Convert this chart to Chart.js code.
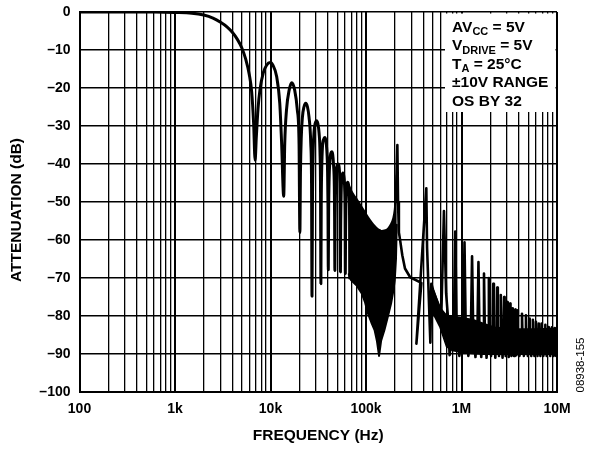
<!DOCTYPE html>
<html>
<head>
<meta charset="utf-8">
<script src="https://cdn.jsdelivr.net/npm/chart.js@4.4.1/dist/chart.umd.min.js"></script>
<style>
html,body{margin:0;padding:0;background:#fff;}
canvas{display:block;}
</style>
</head>
<body>
<canvas id="c" width="590" height="451"></canvas>
<script>
// ---------- DATA ----------
const xTickValues = [100, 1000, 10000, 100000, 1000000, 10000000];
const xTickLabels = ['100', '1k', '10k', '100k', '1M', '10M'];
const yTickValues = [0, -10, -20, -30, -40, -50, -60, -70, -80, -90, -100];
const yTickLabels = ['0', '\u201310', '\u201320', '\u201330', '\u201340', '\u201350', '\u201360', '\u201370', '\u201380', '\u201390', '\u2013100'];

// pass band and roll-off into the first null
const passbandFreq = [100, 300, 600, 1000, 1500, 2000, 2500, 3000, 3500, 4000, 4500, 5000, 5500, 6000, 6350, 6650, 6900];
const passbandDb   = [0, 0, 0, -0.1, -0.3, -0.8, -1.6, -2.7, -3.9, -5.4, -7.2, -9.4, -12.4, -16.5, -21, -29, -39];

// individual side lobes
const sidelobeFreq = [
  7100, 7400, 7750, 8400, 9100, 9900, 10600, 11600, 12500, 13050, 13750,
  14100, 14700, 15700, 16700, 17900, 19100, 19900, 20300,
  20600, 21000, 21600, 22400, 23400, 24400, 25300, 26400, 26900, 27200,
  27500, 27900, 28600, 29400, 30400, 31400, 32300, 33000, 33400, 33700,
  34000, 34400, 35000, 36000, 37000, 38000, 38900, 39600, 39950, 40300,
  40600, 41100, 41900, 42800, 43800, 44800, 45800, 46600, 46900, 47200,
  47500, 48100, 49100, 50200, 51200, 52300, 53200, 53700, 54000,
  54300, 54900, 55900, 57300, 58600, 59800, 60400, 60750,
  61100, 61700, 62800, 64200, 65600, 66800, 67300, 67500
];
const sidelobeDb = [
  -33, -25.5, -20.5, -16, -14, -13.3, -14, -17, -24, -34, -48.5,
  -34.6, -25.8, -20.5, -18.6, -20.5, -25.8, -34.6, -58,
  -42, -33, -27.6, -25, -24, -25, -27.6, -34.6, -45, -74.8,
  -50, -38, -31.5, -29.3, -28.6, -29.5, -32, -37, -46, -71.5,
  -50, -41, -35.5, -33.5, -33, -33.8, -36.5, -42, -50, -67.8,
  -53, -44, -39, -37.2, -36.8, -37.5, -40.5, -46, -54, -68,
  -55, -46, -41.5, -40.2, -40, -40.8, -44, -50, -68.4,
  -57, -48, -43.5, -42.4, -43.2, -46.5, -53, -68.8,
  -58, -50, -46, -44.8, -45.5, -49, -55, -70
];

// densely packed lobes (drawn as a filled band between envelopes)
const denseFreq    = [66000, 70000, 75000, 80000, 90000, 98000, 105000, 115000, 123000, 130000, 137000, 144000, 156000, 170000, 183000, 193000, 200000, 206000, 210000];
const denseUpperDb = [-45.5, -47, -48.3, -49.3, -51.3, -52.8, -54, -55.4, -56.3, -56.9, -57.3, -57.6, -57.5, -57, -55.8, -54.3, -52, -48, -43];
const denseLowerDb = [-69, -70.6, -71.3, -72, -74, -76.5, -79.4, -82, -83.7, -86.5, -90.5, -86.5, -83.7, -80, -76.7, -73.5, -70.6, -65, -56];

// alias spikes above the sampling rate [frequency Hz, dB]
const aliasTrain = [
  [205000,-50],[213000,-35],[216500,-50],[221000,-58],[226000,-59.5],[240000,-64],[256000,-67.5],
  [290000,-69.8],[380000,-71.3],[337000,-87.3],[428000,-46.4],[436000,-62],[472000,-87],
  [483000,-71.5],[502000,-73],[560000,-76.5],[615000,-79.4],[655000,-52.4],[690000,-74],
  [721000,-80.2],[751000,-90.3],[800000,-83],[835000,-80],[860000,-57.8],[885000,-80],
  [950000,-90.5],[1010000,-84],[1045000,-82],[1075000,-60.6],[1105000,-82],[1180000,-90.5],
  [1255000,-83],[1290000,-64.3],[1325000,-83],[1400000,-90.8],
  [1470000,-83],[1505000,-65.8],[1540000,-83],[1610000,-90.8],
  [1685000,-83.5],[1720000,-68.8],[1755000,-83.5],[1830000,-91],
  [1900000,-83.5],[1935000,-70],[1970000,-83.5],[2040000,-90.5],
  [2115000,-84],[2150000,-71.5],[2185000,-84],[2260000,-91],
  [2330000,-84],[2365000,-72.5],[2400000,-84],[2470000,-90.5],
  [2545000,-84],[2580000,-74.5],[2615000,-84],[2690000,-91],
  [2760000,-84],[2795000,-75],[2830000,-84],[2900000,-90.5],
  [2975000,-84],[3010000,-76.3],[3045000,-84],[3120000,-90.8],
  [3190000,-84],[3225000,-76.7],[3260000,-84],[3330000,-90.5],
  [3405000,-84],[3440000,-78],[3475000,-84],[3550000,-90.5],
  [3620000,-84],[3655000,-78.3],[3690000,-84],[3760000,-90.3],
  [3835000,-84],[3870000,-78.5],[3905000,-84],[4050000,-90.5],
  [4260000,-84],[4300000,-79.4],[4340000,-84],[4500000,-90.5],
  [4690000,-84],[4730000,-79.8],[4770000,-84],[4950000,-90.5],
  [5120000,-84],[5160000,-80.7],[5200000,-84],[5380000,-90.5],
  [5550000,-84],[5590000,-81],[5630000,-84],[5800000,-90.5],
  [5980000,-84],[6020000,-81.5],[6060000,-84],[6250000,-90.5],
  [6410000,-84],[6450000,-82],[6490000,-84],[6700000,-90.5],
  [6840000,-84],[6880000,-82],[6920000,-84],[7200000,-90.5],
  [7490000,-84],[7530000,-82.3],[7570000,-84],[7800000,-90.5],
  [8130000,-84],[8170000,-82.9],[8210000,-84],[8500000,-90.5],
  [8780000,-84],[8820000,-83],[8860000,-84],[9200000,-90.5],
  [9420000,-84],[9460000,-83.2],[9500000,-84],[9800000,-90.5],
  [10000000,-86]
];

// high-frequency noise floor band
const floorFreq    = [500000, 600000, 700000, 800000, 1000000, 1300000, 1700000, 2200000, 3000000, 4000000, 6000000, 10000000];
const floorUpperDb = [-73, -78, -80, -80.2, -80.5, -81, -82, -83, -83.3, -83.5, -83.5, -83.3];
const floorLowerDb = [-79, -83, -88, -89, -89.5, -89.8, -90, -90, -90, -90, -90, -90];

// conditions note (text, isSubscript)
const noteLines = [
  [['AV', 0], ['CC', 1], [' = 5V', 0]],
  [['V', 0], ['DRIVE', 1], [' = 5V', 0]],
  [['T', 0], ['A', 1], [' = 25\u00B0C', 0]],
  [['\u00B110V RANGE', 0]],
  [['OS BY 32', 0]]
];
const xTitle = 'FREQUENCY (Hz)';
const yTitle = 'ATTENUATION (dB)';
const figureId = '08938-155';

// ---------- build ----------
const toPts = (fs, ds) => fs.map((f, i) => ({x: f, y: ds[i]}));
const mainPts = toPts(passbandFreq.concat(sidelobeFreq), passbandDb.concat(sidelobeDb));
const aliasPts = aliasTrain.map(p => ({x: p[0], y: p[1]}));

const gridValues = [];
for (let d = 100; d <= 1e7; d *= 10) {
  for (let m = 1; m <= 9; m++) { const v = d * m; if (v <= 1e7) gridValues.push(v); }
}
const isDecade = v => xTickValues.indexOf(v) >= 0;

const FONT = '"Liberation Sans", Arial, Helvetica, sans-serif';

const notesPlugin = {
  id: 'notes',
  afterDatasetsDraw(chart) {
    const ctx = chart.ctx;
    const a = chart.chartArea;
    ctx.save();
    // condition box
    ctx.fillStyle = '#fff';
    ctx.fillRect(445, a.top + 1.5, a.right - 1.5 - 445, 98.5);
    ctx.fillStyle = '#000';
    ctx.textBaseline = 'alphabetic';
    ctx.textAlign = 'left';
    const baselines = [31.5, 50, 68.5, 87, 105.5];
    noteLines.forEach((parts, i) => {
      let x = 452;
      parts.forEach(([t, sub]) => {
        ctx.font = sub ? 'bold 11px ' + FONT : 'bold 15.5px ' + FONT;
        ctx.fillText(t, x, sub ? baselines[i] + 3.5 : baselines[i]);
        x += ctx.measureText(t).width;
      });
    });
    // y axis title
    ctx.save();
    ctx.translate(17, 210);
    ctx.rotate(-Math.PI / 2);
    ctx.font = 'bold 15.5px ' + FONT;
    ctx.textAlign = 'center';
    ctx.textBaseline = 'middle';
    ctx.fillText(yTitle, 0, 0);
    ctx.restore();
    // figure id
    ctx.save();
    ctx.translate(581, 365);
    ctx.rotate(-Math.PI / 2);
    ctx.font = '11.5px ' + FONT;
    ctx.textAlign = 'center';
    ctx.textBaseline = 'middle';
    ctx.fillText(figureId, 0, 0);
    ctx.restore();
    ctx.restore();
  }
};

const lineBase = {
  borderColor: '#000',
  backgroundColor: '#000',
  pointRadius: 0,
  pointHoverRadius: 0,
  borderJoinStyle: 'round',
  borderCapStyle: 'round'
};

new Chart(document.getElementById('c'), {
  type: 'line',
  data: {
    datasets: [
      Object.assign({}, lineBase, {label: 'dense upper', data: toPts(denseFreq, denseUpperDb), borderWidth: 2, fill: false, tension: 0.2}),
      Object.assign({}, lineBase, {label: 'dense lower', data: toPts(denseFreq, denseLowerDb), borderWidth: 2, fill: '-1', tension: 0}),
      Object.assign({}, lineBase, {label: 'floor upper', data: toPts(floorFreq, floorUpperDb), borderWidth: 2, fill: false, tension: 0}),
      Object.assign({}, lineBase, {label: 'floor lower', data: toPts(floorFreq, floorLowerDb), borderWidth: 2, fill: '-1', tension: 0}),
      Object.assign({}, lineBase, {label: 'response', data: mainPts, borderWidth: 3, fill: false, cubicInterpolationMode: 'monotone'}),
      Object.assign({}, lineBase, {label: 'alias', data: aliasPts, borderWidth: 2.6, fill: false, tension: 0})
    ]
  },
  options: {
    responsive: false,
    animation: false,
    events: [],
    layout: {padding: {left: 0, right: 33, top: 12, bottom: 0}},
    plugins: {legend: {display: false}, tooltip: {enabled: false}},
    scales: {
      x: {
        type: 'logarithmic',
        min: 100,
        max: 10000000,
        afterBuildTicks: s => { s.ticks = gridValues.map(v => ({value: v})); },
        afterFit: s => { s.height = 59; s.paddingLeft = 0; s.paddingRight = 0; },
        ticks: {
          autoSkip: false,
          maxRotation: 0,
          padding: 9,
          color: '#000',
          font: {family: FONT, size: 14, weight: 'bold'},
          callback: v => { const i = xTickValues.indexOf(v); return i >= 0 ? xTickLabels[i] : ''; }
        },
        grid: {
          color: '#000',
          drawTicks: false,
          lineWidth: c => (c.tick && isDecade(c.tick.value)) ? 2 : 1.3
        },
        border: {display: true, color: '#000', width: 2},
        title: {
          display: true,
          text: xTitle,
          color: '#000',
          font: {family: FONT, size: 15.5, weight: 'bold'},
          padding: {top: 0, bottom: 6}
        }
      },
      y: {
        type: 'linear',
        min: -100,
        max: 0,
        afterBuildTicks: s => { s.ticks = yTickValues.map(v => ({value: v})); },
        afterFit: s => { s.width = 79.5; s.paddingTop = 0; s.paddingBottom = 0; },
        ticks: {
          padding: 9,
          color: '#000',
          font: {family: FONT, size: 14, weight: 'bold'},
          callback: v => { const i = yTickValues.indexOf(v); return i >= 0 ? yTickLabels[i] : ''; }
        },
        grid: {color: '#000', drawTicks: false, lineWidth: 1.4},
        border: {display: true, color: '#000', width: 2}
      }
    }
  },
  plugins: [notesPlugin]
});
</script>
</body>
</html>
